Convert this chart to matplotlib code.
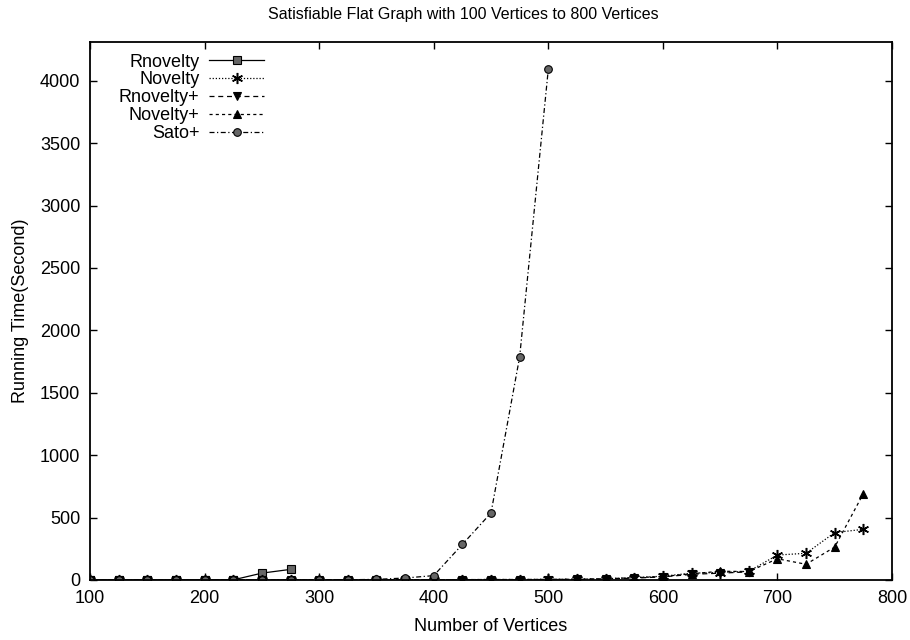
import matplotlib
matplotlib.use("Agg")
import matplotlib.pyplot as plt

plt.rcParams["font.family"] = ["Liberation Sans", "DejaVu Sans"]

# running times (seconds) per number of vertices
vertices_rn = [100, 125, 150, 175, 200, 225, 250, 275]
rnovelty = [0, 0, 0, 0, 0, 1, 55, 85]

vertices_full = [100, 125, 150, 175, 200, 225, 250, 275, 300, 325, 350, 375,
                 400, 425, 450, 475, 500, 525, 550, 575, 600, 625, 650, 675,
                 700, 725, 750, 775]
novelty = [0, 0, 0, 0, 0, 0, 1, 1, 1, 1, 2, 2,
           3, 3, 4, 4, 5, 6, 10, 20, 30, 55, 60, 70,
           200, 214, 380, 406]
novelty_plus = [0, 0, 0, 0, 0, 0, 1, 1, 1, 1, 2, 2,
                3, 3, 4, 4, 5, 6, 10, 18, 28, 50, 70, 68,
                170, 126, 264, 692]

vertices_rnp = [100, 125, 150, 175, 200, 225, 250, 275, 300, 325, 350, 375,
                400, 425, 450, 475, 500, 525, 550, 575, 600, 625, 650, 675]
rnovelty_plus = [0, 0, 0, 0, 0, 0, 1, 1, 1, 1, 1, 2,
                 2, 2, 3, 3, 4, 5, 8, 15, 25, 45, 55, 65]

vertices_sato = [100, 125, 150, 175, 200, 225, 250, 275, 300, 325, 350, 375,
                 400, 425, 450, 475, 500]
sato_plus = [0, 0, 0, 0, 0, 0, 0, 0, 1, 2, 5, 16,
             35, 285, 537, 1787, 4090]

x_ticks = [100, 200, 300, 400, 500, 600, 700, 800]
y_ticks = [0, 500, 1000, 1500, 2000, 2500, 3000, 3500, 4000]

fig = plt.figure(figsize=(9.1, 6.4), dpi=100)
ax = fig.add_axes([90 / 910, 1 - 580 / 640, 802 / 910, 538 / 640])

mk = dict(markersize=5.5, markeredgecolor="black", markeredgewidth=0.8)
ax.plot(vertices_rn, rnovelty, color="black", lw=0.9, ls="-",
        marker="s", markerfacecolor="#666666", label="Rnovelty", **mk)
ax.plot(vertices_full, novelty, color="black", lw=0.9, ls=(0, (1, 1.5)),
        marker=(6, 2, 0), markersize=8, markeredgecolor="black",
        markeredgewidth=1.1, label="Novelty")
ax.plot(vertices_rnp, rnovelty_plus, color="black", lw=0.9, ls=(0, (4, 3)),
        marker="v", markerfacecolor="black", label="Rnovelty+", **mk)
ax.plot(vertices_full, novelty_plus, color="black", lw=0.9, ls=(0, (2.5, 2.5)),
        marker="^", markerfacecolor="black", label="Novelty+", **mk)
ax.plot(vertices_sato, sato_plus, color="black", lw=0.9, ls=(0, (4, 2, 1, 2)),
        marker="o", markerfacecolor="#666666", label="Sato+", **mk)

ax.set_xlim(100, 800)
ax.set_ylim(0, 4310)
ax.set_xticks(x_ticks)
ax.set_yticks(y_ticks)
ax.tick_params(direction="in", length=5, width=1.0, top=True, right=True,
               labelsize=13, pad=7)
for spine in ax.spines.values():
    spine.set_linewidth(1.3)

ax.set_xlabel("Number of Vertices", fontsize=13, labelpad=8)
ax.set_ylabel("Running Time(Second)", fontsize=13, labelpad=8)
fig.text(463 / 910, 1 - 14 / 640, "Satisfiable Flat Graph with 100 Vertices to 800 Vertices",
         ha="center", va="center", fontsize=11.5)

leg = ax.legend(loc="upper left", frameon=False, markerfirst=False,
                fontsize=13, handlelength=3.0, handletextpad=0.55,
                labelspacing=0.05, borderaxespad=0.0,
                bbox_to_anchor=(0.027, 0.992))
# right-align label/handle rows like a gnuplot key
for col in leg._legend_handle_box.get_children():
    col.align = "right"

fig.savefig("out.png", dpi=100)
